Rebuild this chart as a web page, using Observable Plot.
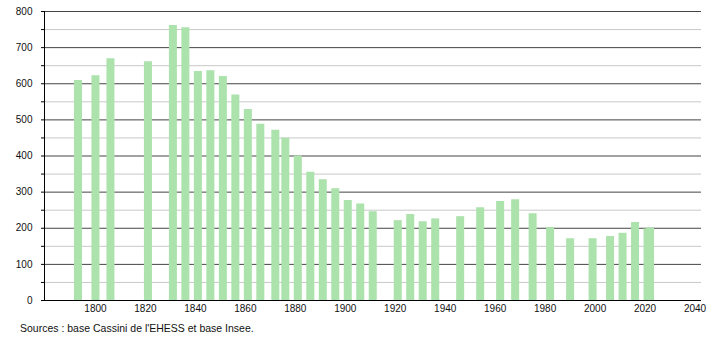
<!DOCTYPE html>
<html>
<head>
<meta charset="utf-8">
<script src="https://cdn.jsdelivr.net/npm/d3@7"></script>
<script src="https://cdn.jsdelivr.net/npm/@observablehq/plot@0.6"></script>
<style>
  html, body { margin: 0; padding: 0; background: #fff; }
  #chart { width: 710px; height: 340px; position: relative; font-family: "Liberation Sans", Arial, sans-serif; }
  #caption { position: absolute; left: 20px; top: 321px; font-size: 10.5px; color: #111; line-height: 14px; }
</style>
</head>
<body>
<div id="chart"></div>
<script>
const years = [1793, 1800, 1806, 1821, 1831, 1836, 1841, 1846, 1851, 1856, 1861, 1866, 1872, 1876, 1881, 1886, 1891, 1896, 1901, 1906, 1911, 1921, 1926, 1931, 1936, 1946, 1954, 1962, 1968, 1975, 1982, 1990, 1999, 2006, 2011, 2016, 2021, 2022];
const population = [609, 622, 669, 661, 761, 755, 634, 636, 620, 569, 529, 488, 471, 449, 400, 355, 334, 309, 277, 267, 246, 221, 238, 218, 226, 232, 257, 274, 279, 240, 202, 171, 171, 177, 186, 216, 198, 201];
const yMajor = [0, 100, 200, 300, 400, 500, 600, 700, 800];
const yMinor = [50, 150, 250, 350, 450, 550, 650, 750];
const yTicks = [...yMajor, ...yMinor].sort((a, b) => a - b);
const xTicks = [1800, 1820, 1840, 1860, 1880, 1900, 1920, 1940, 1960, 1980, 2000, 2020, 2040];
const caption = "Sources : base Cassini de l'EHESS et base Insee.";

const data = years.map((y, i) => ({year: y, pop: population[i]}));

const chart = Plot.plot({
  width: 710,
  height: 314,
  marginTop: 11,
  marginBottom: 14,
  marginLeft: 44,
  marginRight: 9,
  style: {fontFamily: "'Liberation Sans', Arial, sans-serif", fontSize: "10px", color: "#111", background: "#fff"},
  x: {domain: [1779.6, 2042.6]},
  y: {domain: [0, 800]},
  marks: [
    Plot.ruleY(yMinor, {stroke: "#c8c8c8", strokeWidth: 1}),
    Plot.ruleY(yMajor, {stroke: "#444", strokeWidth: 1}),
    Plot.ruleX(data, {x: "year", y1: 0, y2: "pop", stroke: "#ace2ac", strokeWidth: 8}),
    Plot.axisY({ticks: yTicks, tickSize: 3, tickPadding: 9, stroke: "#000", tickFormat: d => d % 100 === 0 ? d : "", label: null}),
    Plot.axisX({ticks: xTicks, tickSize: 0, tickPadding: 4, tickFormat: d => String(d), label: null}),
    Plot.frame({anchor: "left", stroke: "#000"}),
    Plot.ruleY([0], {stroke: "#000", strokeWidth: 1.2})
  ]
});
document.getElementById("chart").appendChild(chart);
const cap = document.createElement("div");
cap.id = "caption";
cap.textContent = caption;
document.getElementById("chart").appendChild(cap);
</script>
</body>
</html>
